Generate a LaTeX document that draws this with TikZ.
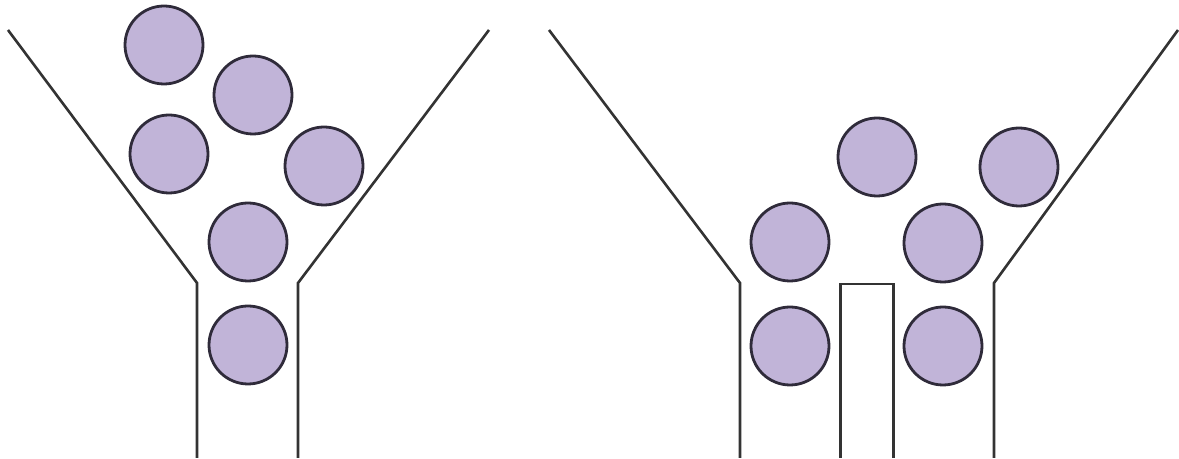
\documentclass[tikz,border=0pt]{standalone}
\begin{document}
\begin{tikzpicture}[x=0.5pt,y=-0.5pt,
  wall/.style={draw=black!80,line width=1.3pt,line join=miter},
  ball/.style={circle,draw=ballline,line width=1.4pt,fill=ballc,minimum size=39pt,inner sep=0pt}]
\definecolor{ballc}{HTML}{C1B4D8}
\definecolor{ballline}{HTML}{2F2B3A}
\useasboundingbox (0,0) rectangle (1179,459);
% left funnel
\draw[wall] (8,30) -- (197,283) -- (197,458);
\draw[wall] (489,30) -- (298,283) -- (298,458);
\node[ball] (a1) at (164,45) {};
\node[ball] (a2) at (253,95) {};
\node[ball] (a3) at (169,154) {};
\node[ball] (a4) at (324,166) {};
\node[ball] (a5) at (248,242) {};
\node[ball] (a6) at (248,345) {};
% right funnel
\draw[wall] (549,30) -- (740,283) -- (740,458);
\draw[wall] (1178,30) -- (994,283) -- (994,458);
\draw[wall,line width=1.4pt] (840.5,458) -- (840.5,284) -- (893.5,284) -- (893.5,458);
\node[ball] (b1) at (877,157) {};
\node[ball] (b2) at (1019,167) {};
\node[ball] (b3) at (790,242) {};
\node[ball] (b4) at (943,243) {};
\node[ball] (b5) at (790,346) {};
\node[ball] (b6) at (943,346) {};
\end{tikzpicture}
\end{document}
